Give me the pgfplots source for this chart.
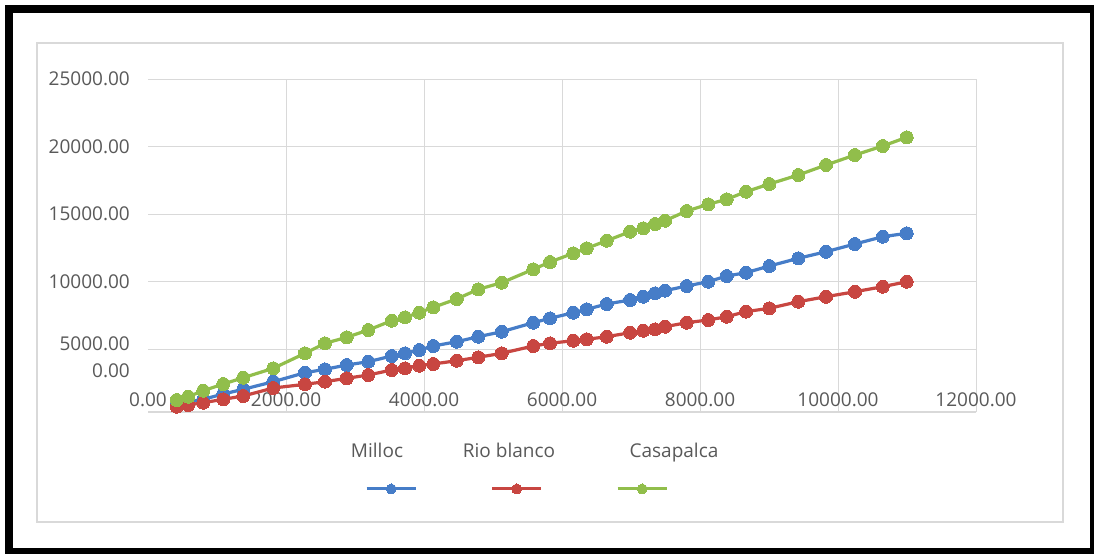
\documentclass[border=0pt]{standalone}
\usepackage{pgfplots}
\usepackage{pgfplotstable}
\pgfplotsset{compat=1.18}
\usepackage{fontspec}
\setmainfont{Open Sans}
\definecolor{txt}{HTML}{595959}
\definecolor{gridc}{HTML}{D9D9D9}
\definecolor{cblue}{RGB}{70,125,200}
\definecolor{cred}{RGB}{200,70,65}
\definecolor{cgreen}{RGB}{145,190,75}

\pgfplotstableread{
x y
416 926
584 1074
801 1274
1091 1667
1381 2015
1816 2578
2275 3244
2565 3496
2880 3815
3193 4059
3532 4481
3725 4681
3932 4926
4135 5222
4474 5541
4787 5911
5126 6281
5584 6948
5826 7274
6164 7689
6358 7941
6648 8333
6986 8630
7178 8874
7348 9126
7493 9319
7807 9667
8120 9985
8387 10407
8667 10652
9005 11148
9425 11718
9826 12207
10246 12778
10648 13318
10996 13570
}\milloc

\pgfplotstableread{
x y
416 726
584 852
801 1022
1091 1274
1381 1519
1816 2111
2275 2385
2565 2578
2880 2830
3193 3074
3532 3444
3725 3570
3932 3763
4135 3889
4474 4133
4787 4385
5126 4681
5584 5222
5826 5422
6164 5615
6358 5719
6648 5911
6986 6207
7178 6356
7348 6459
7493 6652
7807 6948
8120 7148
8387 7393
8667 7770
9005 8015
9425 8504
9826 8874
10246 9244
10648 9615
10996 9985
}\rioblanco

\pgfplotstableread{
x y
416 1222
584 1467
801 1911
1091 2407
1381 2874
1816 3570
2275 4681
2565 5422
2880 5867
3193 6407
3532 7096
3725 7348
3932 7689
4135 8089
4474 8704
4787 9422
5126 9911
5584 10904
5826 11444
6164 12089
6358 12459
6648 13022
6986 13689
7178 13941
7348 14259
7493 14504
7807 15222
8120 15718
8387 16089
8667 16652
9005 17222
9425 17889
9826 18630
10246 19370
10648 20037
10996 20681
}\casapalca

\begin{document}
\fontsize{19bp}{22bp}\selectfont
\begin{tikzpicture}
\useasboundingbox (0,0) rectangle (1094bp,-554bp);
\fill[white] (0,0) rectangle (1094bp,-554bp);
\draw[gridc, line width=1.2bp] (37bp,-43bp) rectangle (1063bp,-522bp);
\begin{axis}[
  at={(148bp,-412bp)}, anchor=south west,
  scale only axis, width=828bp, height=333bp,
  xmin=0, xmax=12000, ymin=333, ymax=25000,
  xtick={2000,4000,...,12000},
  xticklabels={2000.00,4000.00,6000.00,8000.00,10000.00,12000.00},
  extra x ticks={0}, extra x tick labels={0.00},
  extra x tick style={grid=none},
  ytick={5000,10000,...,25000},
  yticklabels={,10000.00,15000.00,20000.00,25000.00},
  extra y ticks={3370,5370}, extra y tick labels={0.00,5000.00},
  extra y tick style={grid=none},
  major tick length=0pt,
  grid=major,
  grid style={gridc, line width=1bp},
  axis x line*=bottom, axis y line*=left,
  x axis line style={gridc, line width=1.2bp, -},
  y axis line style={draw=none},
  tick label style={font=\fontsize{19bp}{22bp}\selectfont, text=txt},
  xticklabel style={anchor=center, inner sep=0pt, yshift=12bp},
  yticklabel style={anchor=east, inner sep=0pt, xshift=-18bp},
  scaled ticks=false,
  clip=false,
  legend columns=3,
  legend style={draw=none, fill=none, at={(0.2621,-0.2312)}, anchor=west,
    inner sep=0pt, nodes={inner sep=0pt},
    /tikz/every even column/.append style={column sep=72.5bp}},
  legend image code/.code={\draw[mark repeat=2, mark phase=2, #1, line width=3bp, mark size=5bp] plot coordinates {(0bp,0bp) (24.5bp,0bp) (49bp,0bp)};},
]
\addplot[cblue, line width=3.2bp, mark=*, mark size=6.5bp, mark options={fill=cblue, draw=cblue, line width=0pt}] table[x=x,y=y] {\milloc};
\addlegendentry{\mbox{}}
\addplot[cred, line width=3.2bp, mark=*, mark size=6.5bp, mark options={fill=cred, draw=cred, line width=0pt}] table[x=x,y=y] {\rioblanco};
\addlegendentry{\mbox{}}
\addplot[cgreen, line width=3.2bp, mark=*, mark size=6.5bp, mark options={fill=cgreen, draw=cgreen, line width=0pt}] table[x=x,y=y] {\casapalca};
\addlegendentry{\mbox{}}
\end{axis}
\node[anchor=base, text=txt] at (377bp,-457bp) {Milloc};
\node[anchor=base, text=txt] at (509bp,-457bp) {Rio blanco};
\node[anchor=base, text=txt] at (674bp,-457bp) {Casapalca};
\draw[line width=8bp] (9bp,-9bp) rectangle (1094bp,-552bp);
\end{tikzpicture}
\end{document}
